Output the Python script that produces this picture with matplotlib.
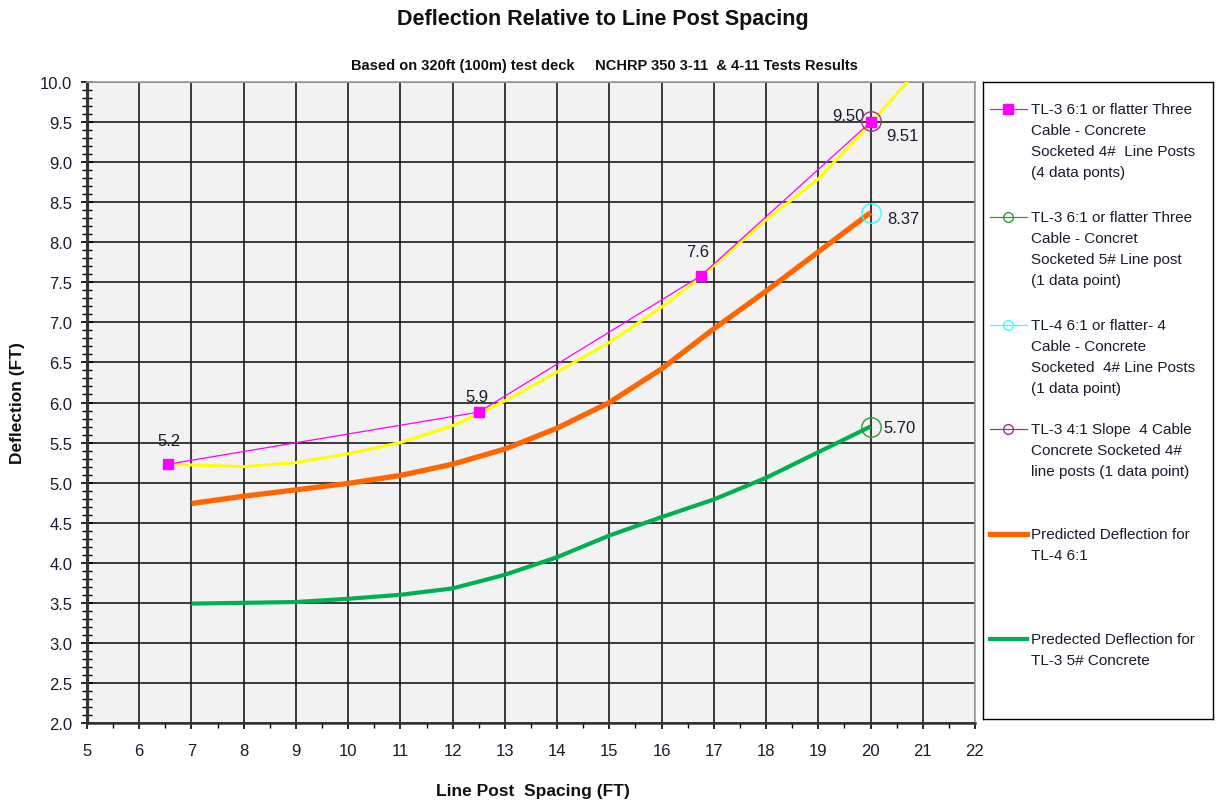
import matplotlib
matplotlib.use("Agg")
import matplotlib.pyplot as plt
from matplotlib.ticker import MultipleLocator, FormatStrFormatter

plt.rcParams['font.family'] = ['Liberation Sans', 'DejaVu Sans']

# TL-3 6:1 three cable, 4# posts (4 data points)
tl3_x = [6.55, 12.5, 16.75, 20.0]
tl3_y = [5.23, 5.88, 7.58, 9.50]
tl3_labels = ["5.2", "5.9", "7.6", "9.50"]

# yellow fitted curve through the TL-3 points
fit_x = [6.55, 7, 8, 9, 10, 11, 12, 12.5, 13, 14, 15, 16, 16.75, 17, 18, 19, 20, 20.7]
fit_y = [5.23, 5.22, 5.20, 5.25, 5.36, 5.50, 5.71, 5.86, 6.02, 6.38, 6.75, 7.19, 7.56, 7.71, 8.28, 8.79, 9.48, 10.0]

# predicted curves
pred_x = [7, 8, 9, 10, 11, 12, 13, 14, 15, 16, 17, 18, 19, 20]
pred_tl4 = [4.74, 4.83, 4.91, 4.99, 5.09, 5.23, 5.42, 5.68, 6.00, 6.42, 6.92, 7.39, 7.88, 8.37]
pred_tl3 = [3.49, 3.50, 3.51, 3.55, 3.60, 3.68, 3.85, 4.07, 4.34, 4.57, 4.79, 5.06, 5.38, 5.70]

# single data points
p5_x, p5_y = 20.0, 5.70      # TL-3 5# line post
tl4_x, tl4_y = 20.0, 8.37    # TL-4 4 cable
slope_x, slope_y = 20.0, 9.51  # TL-3 4:1 slope

legend_texts = [
    ["TL-3 6:1 or flatter Three", "Cable - Concrete", "Socketed 4#  Line Posts", "(4 data ponts)"],
    ["TL-3 6:1 or flatter Three", "Cable - Concret", "Socketed 5# Line post", "(1 data point)"],
    ["TL-4 6:1 or flatter- 4", "Cable - Concrete", "Socketed  4# Line Posts", "(1 data point)"],
    ["TL-3 4:1 Slope  4 Cable", "Concrete Socketed 4#", "line posts (1 data point)"],
    ["Predicted Deflection for", "TL-4 6:1"],
    ["Predected Deflection for", "TL-3 5# Concrete"],
]

magenta = '#ff00ff'
yellow = '#ffff00'
orange = '#ff6600'
green = '#00b050'
lgreen = '#339933'
cyan = '#33ffff'
purple = '#993399'
txtc = '#1a1a2e'

fig = plt.figure(figsize=(12.17, 8.03), dpi=100)
ax = fig.add_axes([87/1217, 79/803, 888/1217, 641/803])
ax.set_facecolor('#f2f2f2')

ax.plot(fit_x, fit_y, color=yellow, lw=2.2, zorder=3)
ax.plot(tl3_x, tl3_y, color=magenta, lw=0.9, marker='s', ms=7, zorder=4)
ax.plot(pred_x, pred_tl4, color=orange, lw=3.8, solid_capstyle='butt', zorder=3)
ax.plot(pred_x, pred_tl3, color=green, lw=3.0, solid_capstyle='butt', zorder=3)
ax.plot([p5_x], [p5_y], marker='o', ms=14, mfc='none', mec=lgreen, mew=1.0, ls='none', zorder=5)
ax.plot([tl4_x], [tl4_y], marker='o', ms=14, mfc='none', mec=cyan, mew=1.0, ls='none', zorder=5)
ax.plot([slope_x], [slope_y], marker='o', ms=14, mfc='none', mec=purple, mew=1.0, ls='none', zorder=5)

# data labels
offs = [(1, 17), (-1, 11), (-2, 17.5), (-4, 5)]
has = ['center', 'center', 'center', 'right']
for x, y, lab, o, h in zip(tl3_x, tl3_y, tl3_labels, offs, has):
    ax.annotate(lab, (x, y), xytext=o, textcoords='offset points', ha=h, va='center',
                fontsize=12, color=txtc)
ax.annotate(f"{slope_y:.2f}", (slope_x, slope_y), xytext=(11.5, -10), textcoords='offset points',
            ha='left', va='center', fontsize=12, color=txtc)
ax.annotate(f"{tl4_y:.2f}", (tl4_x, tl4_y), xytext=(12, -4), textcoords='offset points',
            ha='left', va='center', fontsize=12, color=txtc)
ax.annotate(f"{p5_y:.2f}", (p5_x, p5_y), xytext=(9.5, -1), textcoords='offset points',
            ha='left', va='center', fontsize=12, color=txtc)

ax.set_xlim(5, 22)
ax.set_ylim(2.0, 10.0)
ax.xaxis.set_major_locator(MultipleLocator(1))
ax.xaxis.set_minor_locator(MultipleLocator(0.5))
ax.yaxis.set_major_locator(MultipleLocator(0.5))
ax.yaxis.set_minor_locator(MultipleLocator(0.1))
ax.yaxis.set_major_formatter(FormatStrFormatter('%.1f'))
ax.grid(True, which='major', color='#1a1a1a', lw=1.2, zorder=1)
ax.set_axisbelow(True)

ax.tick_params(axis='y', which='major', direction='inout', length=9, width=1.2, labelsize=12,
               pad=6, labelcolor=txtc)
ax.tick_params(axis='y', which='minor', direction='inout', length=6.5, width=1.0)
ax.tick_params(axis='x', which='major', direction='out', length=4.5, width=1.2, labelsize=12,
               pad=10, labelcolor=txtc)
ax.tick_params(axis='x', which='minor', direction='out', length=3.5, width=1.0)

for s in ['top', 'right']:
    ax.spines[s].set_color('#a0a0a0')
    ax.spines[s].set_linewidth(1.2)
ax.spines['left'].set_color('#333333')
ax.spines['left'].set_linewidth(2.2)
ax.spines['bottom'].set_color('#333333')
ax.spines['bottom'].set_linewidth(1.8)

fig.text(603/1217, 1 - 19/803, "Deflection Relative to Line Post Spacing", ha='center', va='center',
         fontsize=15.5, fontweight='bold', color='#111111')
fig.text(604/1217, 1 - 66/803, "Based on 320ft (100m) test deck     NCHRP 350 3-11  & 4-11 Tests Results",
         ha='center', va='center', fontsize=10.5, fontweight='bold', color='#111111')
fig.text(533/1217, 1 - 792/803, "Line Post  Spacing (FT)", ha='center', va='center',
         fontsize=12.5, fontweight='bold', color='#111111')
fig.text(18/1217, 1 - 403/803, "Deflection (FT)", ha='center', va='center', rotation=90,
         fontsize=12.5, fontweight='bold', color='#111111')

# legend panel, in pixel coordinates
lg = fig.add_axes([983/1217, 83/803, 230/1217, 637/803])
lg.set_xlim(983, 1213)
lg.set_ylim(720, 83)
lg.set_xticks([])
lg.set_yticks([])
for s in lg.spines.values():
    s.set_color('#000000')
    s.set_linewidth(1.0)

entry_y = [110, 218, 326, 430, 535, 640]
styles = [
    dict(color=magenta, lw=0.9, marker='s', ms=7),
    dict(color=lgreen, lw=0.9, marker='o', ms=7, mfc='none', mew=1.0),
    dict(color=cyan, lw=0.9, marker='o', ms=7, mfc='none', mew=1.0),
    dict(color=purple, lw=0.9, marker='o', ms=7, mfc='none', mew=1.0),
    dict(color=orange, lw=3.8),
    dict(color=green, lw=3.0),
]
for y0, lines, st in zip(entry_y, legend_texts, styles):
    lg.plot([990, 1027], [y0, y0], color=st['color'], lw=st['lw'])
    if 'marker' in st:
        lg.plot([1008], [y0], ls='none', marker=st['marker'], ms=st['ms'],
                mfc=st.get('mfc', st['color']), mec=st['color'], mew=st.get('mew', 1.0))
    for j, line in enumerate(lines):
        lg.text(1031, y0 + 21 * j, line, ha='left', va='center', fontsize=11, color=txtc)

fig.savefig("out.png", dpi=100)
